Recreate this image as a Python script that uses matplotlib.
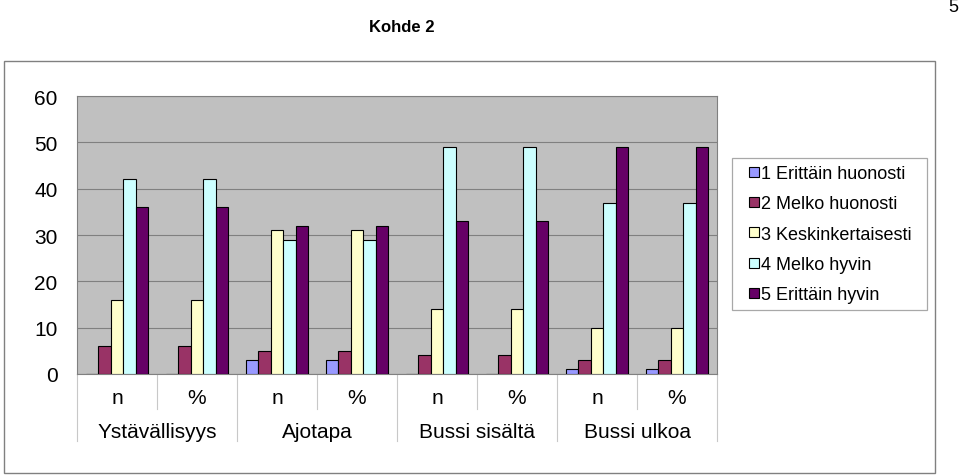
import matplotlib
matplotlib.use("Agg")
import matplotlib.pyplot as plt
import numpy as np
from matplotlib.patches import Rectangle
from matplotlib.lines import Line2D
from matplotlib.transforms import blended_transform_factory

plt.rcParams['font.family'] = ['Liberation Sans', 'DejaVu Sans']

categories = ["Ystävällisyys", "Ajotapa", "Bussi sisältä", "Bussi ulkoa"]
sublabels = ["n", "%"]
series_names = ["1 Erittäin huonosti", "2 Melko huonosti", "3 Keskinkertaisesti",
                "4 Melko hyvin", "5 Erittäin hyvin"]
s1 = [0, 0, 3, 3, 0, 0, 1, 1]
s2 = [6, 6, 5, 5, 4, 4, 3, 3]
s3 = [16, 16, 31, 31, 14, 14, 10, 10]
s4 = [42, 42, 29, 29, 49, 49, 37, 37]
s5 = [36, 36, 32, 32, 33, 33, 49, 49]
colors = ["#9999FF", "#993366", "#FFFFCC", "#CCFFFF", "#660066"]

fig = plt.figure(figsize=(9.6, 4.77), dpi=100)
ax = fig.add_axes([77/960, 1-375/477, 640/960, 278/477])

data = [s1, s2, s3, s4, s5]
ngroups = len(s1)
x = np.arange(ngroups)
w = 0.155
for i, (vals, c, name) in enumerate(zip(data, colors, series_names)):
    ax.bar(x + (i - 2) * w, vals, width=w, color=c, edgecolor="black",
           linewidth=0.8, label=name, zorder=3)

ax.set_facecolor("#C0C0C0")
ax.set_xlim(-0.5, ngroups - 0.5)
ax.set_ylim(0, 60)
ax.set_yticks(range(0, 61, 10))
ax.yaxis.grid(True, color="#808080", linewidth=0.8, zorder=0)
ax.tick_params(axis="y", labelsize=15, length=0, pad=14)
ax.tick_params(axis="x", length=0, labelbottom=False)
for side in ["top", "right", "left"]:
    ax.spines[side].set_color("#808080")
ax.spines["bottom"].set_color("#808080")

trans = blended_transform_factory(ax.transData, ax.transAxes)
axh = 278.0
for j in range(ngroups):
    ax.text(x[j], -24/axh, sublabels[j % 2], transform=trans, ha="center",
            va="center", fontsize=15)
for k, cat in enumerate(categories):
    ax.text(2*k + 0.5, -58/axh, cat, transform=trans, ha="center",
            va="center", fontsize=15)
for b in range(ngroups + 1):
    xb = b - 0.5
    depth = 67/axh if b % 2 == 0 else 35/axh
    ax.plot([xb, xb], [0, -depth], transform=trans, color="#C8C8C8",
            linewidth=0.8, clip_on=False)

handles = [Line2D([], [], linestyle="none", marker="s", markersize=6.5,
                  markerfacecolor=c, markeredgecolor="black",
                  markeredgewidth=0.8) for c in colors]
leg = ax.legend(handles, series_names, loc="upper left",
                bbox_to_anchor=(749/960, 1-166/477),
                bbox_transform=fig.transFigure, fontsize=13, frameon=False,
                handlelength=0.6, handletextpad=0.05,
                labelspacing=0.74, borderpad=0, borderaxespad=0)
fig.patches.append(Rectangle((732/960, 1-311/477), 195/960, 152/477,
                             transform=fig.transFigure, fill=False,
                             edgecolor="#A8A8A8", linewidth=0.9))

fig.patches.append(Rectangle((4/960, 1-474/477), 931/960, 412/477,
                             transform=fig.transFigure, fill=False,
                             edgecolor="#808080", linewidth=1.0))
fig.text(402/960, 1-27/477, "Kohde 2", ha="center", va="center",
         fontsize=12, fontweight="bold")
fig.text(953/960, 1-7/477, "5", ha="center", va="center", fontsize=13)

fig.savefig("out.png", dpi=100)
